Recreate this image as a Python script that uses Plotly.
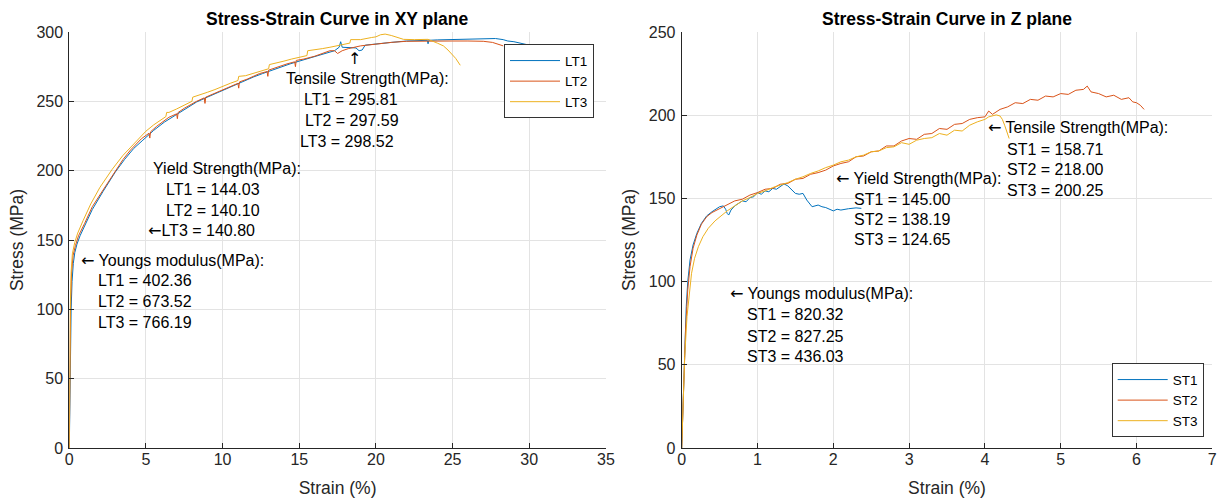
import plotly.graph_objects as go

# ---------------- data: XY plane (left) ----------------
lt1_strain = [0, 0.04, 0.08, 0.12, 0.18, 0.26, 0.36, 0.5, 0.7, 1.0, 1.5, 2.2, 3.0, 3.6, 4.2, 4.8, 5.5,
              6.2, 6.9, 7.6, 8.3, 9.0, 9.6, 10.2, 10.8, 11.4, 12.0, 12.6, 13.2, 13.8, 14.4, 15.0, 15.6,
              16.2, 16.8, 17.3, 17.6, 17.7, 17.8, 18.3, 18.7, 18.9, 19.1, 19.3, 20.0, 21.0, 22.0, 23.0,
              23.35, 23.4, 23.45, 24.0, 25.0, 26.0, 27.0, 27.8, 28.3, 28.6, 29.0, 29.5, 29.8]
lt1_stress = [0, 40, 75, 100, 120, 133, 141, 147, 153, 160, 172, 185, 199, 208, 216, 222, 229,
              235, 240, 245, 249.5, 253, 256, 259, 262, 265, 267.5, 270, 272.5, 275, 277, 279, 281,
              283, 285, 286.5, 289, 293, 289, 288.5, 288.5, 286.5, 287, 290.5, 291.5, 292.5, 293.5, 294,
              294, 291.5, 294, 294.3, 294.5, 294.8, 295, 295.3, 294.5, 293.5, 293, 291.5, 291]

lt2_strain = [0, 0.03, 0.08, 0.15, 0.25, 0.4, 0.6, 1.0, 1.5, 2.2, 3.0, 3.5, 4.0, 4.7, 5.2, 5.25, 5.3,
              5.7, 6.5, 7.0, 7.05, 7.1, 7.5, 8.3, 8.8, 8.85, 8.9, 9.6, 10.5, 11.0, 11.05, 11.1, 11.6,
              12.4, 12.9, 12.95, 13.0, 13.6, 14.2, 14.7, 14.75, 14.8, 15.3, 16.0, 16.4, 17.0, 17.3,
              17.5, 17.8, 18.2, 19.0, 20.0, 21.0, 22.0, 23.0, 24.0, 25.0, 26.0, 27.0, 27.6, 28.0, 28.3]
lt2_stress = [0, 50, 100, 127, 139, 146, 153, 162, 174, 186, 200, 208, 215, 223, 227, 223.5, 228,
              232, 238.5, 241, 237.5, 242, 245, 250, 252.5, 248.5, 253, 256.5, 261, 263, 259.5, 264, 266,
              270, 271.5, 268, 272.5, 275, 277, 278.5, 275, 279.5, 280.5, 282.5, 284, 286.5, 286.5,
              284.5, 286.5, 288, 290, 291.5, 292.5, 293.3, 293.5, 293.8, 293.5, 293.5, 293.3, 292.5, 291, 290]

lt3_strain = [0, 0.02, 0.06, 0.12, 0.2, 0.35, 0.55, 0.9, 1.4, 2.0, 2.8, 3.5, 4.0, 4.5, 5.0, 5.5, 6.0,
              6.3, 6.35, 6.5, 7.0, 7.5, 8.0, 8.05, 8.5, 9.0, 9.5, 10.0, 10.5, 11.0, 11.05, 11.5, 12.0,
              12.5, 13.0, 13.05, 13.5, 14.0, 14.5, 15.0, 15.5, 15.55, 16.0, 16.5, 17.0, 17.5, 18.0,
              18.3, 18.35, 19.0, 19.7, 20.0, 20.3, 20.6, 21.0, 21.5, 21.8, 22.5, 23.0, 23.4, 24.0,
              24.4, 24.7, 25.0, 25.2, 25.5]
lt3_stress = [0, 50, 100, 127, 140, 148, 155, 164, 176, 188, 201, 211, 217, 223, 228.5, 233, 237,
              239, 242, 242, 244.5, 247.5, 250, 253, 254.5, 256.5, 258.5, 261, 263, 265, 268, 268.5, 270,
              272, 273.5, 276.5, 277.5, 279, 280.5, 282, 283, 286.5, 287, 288, 289, 290, 291.5,
              292, 294.5, 294.5, 296, 296.5, 298, 298.5, 297.5, 296, 294.7, 294.5, 294.7, 294.7, 292,
              290, 287, 283.5, 281, 276]

# ---------------- data: Z plane (right) ----------------
st1_strain = [0, 0.02, 0.04, 0.06, 0.08, 0.11, 0.15, 0.2, 0.26, 0.33, 0.4, 0.46, 0.5, 0.55, 0.58,
              0.6, 0.62, 0.65, 0.7, 0.75, 0.8, 0.85, 0.9, 0.95, 1.0, 1.05, 1.1, 1.15, 1.2, 1.25, 1.3,
              1.35, 1.4, 1.45, 1.5, 1.55, 1.6, 1.65, 1.72, 1.8, 1.85, 1.9, 2.0, 2.05, 2.1, 2.2, 2.3, 2.37]
st1_stress = [0, 30, 60, 85, 100, 113, 122, 129, 135, 139.5, 142, 144, 145, 145.5, 143.5,
              141, 140, 143, 145.5, 147, 148.5, 148, 150.5, 151, 153.5, 152.5, 154.5, 154, 156, 155.5, 157,
              158.7, 157.5, 155.5, 153, 152.5, 153, 149, 145, 146, 145, 144.5, 142.5, 143.5, 143, 143.8, 144.3, 144]

st2_strain = [0, 0.02, 0.05, 0.08, 0.11, 0.15, 0.2, 0.26, 0.33, 0.4, 0.5, 0.6, 0.7, 0.8, 0.9, 1.0,
              1.1, 1.2, 1.3, 1.4, 1.5, 1.6, 1.7, 1.8, 1.9, 2.0, 2.1, 2.2, 2.3, 2.4, 2.5, 2.6, 2.7, 2.8,
              2.9, 3.0, 3.1, 3.2, 3.3, 3.4, 3.5, 3.6, 3.7, 3.8, 3.9, 4.0, 4.05, 4.1, 4.2, 4.3, 4.4, 4.5,
              4.6, 4.7, 4.8, 4.9, 5.0, 5.1, 5.2, 5.3, 5.35, 5.4, 5.5, 5.6, 5.7, 5.8, 5.9, 5.95, 6.0, 6.05, 6.1]
st2_stress = [0, 35, 70, 95, 109, 120, 128, 134.5, 139, 141.5, 144, 146, 148.5, 149.5, 152, 153.5,
              155.5, 156, 158.5, 159, 161.5, 162, 164.5, 165.5, 167, 169.5, 171, 172, 175, 175.5, 178, 178.5, 181.5, 181.5,
              184.5, 186, 185.5, 188.5, 189, 192, 191.5, 194.5, 195, 197.5, 198.5, 199, 202.5, 200.5, 203.5, 205, 207.5, 207,
              209.5, 209, 211.5, 211, 213, 212.5, 215, 215.5, 217.5, 214, 213, 211, 212, 209.5, 210.5, 208, 207.5, 206, 203.5]

st3_strain = [0, 0.02, 0.04, 0.07, 0.1, 0.13, 0.17, 0.22, 0.28, 0.35, 0.44, 0.53, 0.6, 0.7, 0.8, 0.9,
              1.0, 1.1, 1.2, 1.3, 1.4, 1.5, 1.6, 1.7, 1.8, 1.9, 2.0, 2.1, 2.2, 2.3, 2.4, 2.5, 2.6, 2.7,
              2.8, 2.9, 3.0, 3.1, 3.2, 3.3, 3.4, 3.5, 3.6, 3.7, 3.8, 3.9, 4.0, 4.05, 4.15, 4.2, 4.23,
              4.26, 4.29, 4.32]
st3_stress = [0, 30, 55, 79, 94, 105, 114, 121, 127, 132, 136.5, 140, 142.5, 145.5, 148.5, 150.5,
              153, 154.5, 156.5, 158, 159.5, 161.5, 163, 165, 166.5, 168.5, 170, 172, 173, 175, 176, 178, 178.5, 180.5,
              181, 183.5, 182.5, 185, 186, 186.5, 189, 188, 191, 190.5, 194, 196, 197.5, 199, 200.2, 199.5, 197.5,
              194, 190, 186]

xy_names = ["LT1", "LT2", "LT3"]
z_names = ["ST1", "ST2", "ST3"]
colors = ["#0072BD", "#D95319", "#EDB120"]

LA = "<span style='font-family:DejaVu Sans'>\u2190</span>"
UA = "<span style='font-family:DejaVu Sans'>\u2191</span>"

left_notes = [
    (UA, 18.6, 281, "center"),
    ("Tensile Strength(MPa):", 14.0, 266.6, "left"),
    ("LT1 = 295.81", 15.15, 251.4, "left"),
    ("LT2 = 297.59", 15.23, 236.3, "left"),
    ("LT3 = 298.52", 14.9, 220.7, "left"),
    ("Yield Strength(MPa):", 5.33, 201.5, "left"),
    ("LT1 = 144.03", 6.19, 186.4, "left"),
    ("LT2 = 140.10", 6.19, 171.5, "left"),
    (LA + "LT3 = 140.80", 5.0, 156.6, "left"),
    (LA + " Youngs modulus(MPa):", 0.66, 135.4, "left"),
    ("LT1 = 402.36", 1.77, 120.5, "left"),
    ("LT2 = 673.52", 1.77, 105.4, "left"),
    ("LT3 = 766.19", 1.77, 90.6, "left"),
]
right_notes = [
    (LA + " Tensile Strength(MPa):", 4.02, 192.4, "left"),
    ("ST1 = 158.71", 4.265, 179.5, "left"),
    ("ST2 = 218.00", 4.265, 167.1, "left"),
    ("ST3 = 200.25", 4.265, 154.9, "left"),
    (LA + " Yield Strength(MPa):", 2.01, 162.1, "left"),
    ("ST1 = 145.00", 2.25, 149.5, "left"),
    ("ST2 = 138.19", 2.25, 137.5, "left"),
    ("ST3 = 124.65", 2.25, 125.6, "left"),
    (LA + " Youngs modulus(MPa):", 0.605, 92.6, "left"),
    ("ST1 = 820.32", 0.835, 80.2, "left"),
    ("ST2 = 827.25", 0.835, 67.2, "left"),
    ("ST3 = 436.03", 0.835, 54.7, "left"),
]

FONT = "Liberation Sans, Arial, Helvetica, sans-serif"
W, H = 1217, 502
T, B = 32, 54

fig = go.Figure()
xy_data = [(lt1_strain, lt1_stress), (lt2_strain, lt2_stress), (lt3_strain, lt3_stress)]
z_data = [(st1_strain, st1_stress), (st2_strain, st2_stress), (st3_strain, st3_stress)]
for (xs, ys), name, c in zip(xy_data, xy_names, colors):
    fig.add_trace(go.Scatter(x=xs, y=ys, mode="lines", name=name, line=dict(color=c, width=1),
                             xaxis="x", yaxis="y", legend="legend"))
for (xs, ys), name, c in zip(z_data, z_names, colors):
    fig.add_trace(go.Scatter(x=xs, y=ys, mode="lines", name=name, line=dict(color=c, width=1),
                             xaxis="x2", yaxis="y2", legend="legend2"))

left_dom = [69.3 / W, 605.9 / W]
right_dom = [681.7 / W, 1212.3 / W]

axis_common = dict(showgrid=True, gridcolor="#e3e3e3", gridwidth=1, zeroline=False,
                   showline=True, linecolor="#262626", linewidth=1, mirror=False,
                   ticks="inside", ticklen=5, tickcolor="#262626",
                   tickfont=dict(family=FONT, size=16, color="#262626"),
                   automargin=False, fixedrange=True)
xfont = dict(family=FONT, size=17.5, color="#262626")

annotations = []
for text, x, y, anc in left_notes:
    annotations.append(dict(text=text, x=x, y=y, xref="x", yref="y", xanchor=anc, yanchor="middle",
                            showarrow=False, font=dict(family=FONT, size=16, color="#000000")))
for text, x, y, anc in right_notes:
    annotations.append(dict(text=text, x=x, y=y, xref="x2", yref="y2", xanchor=anc, yanchor="middle",
                            showarrow=False, font=dict(family=FONT, size=16, color="#000000")))
for dom, title in [(left_dom, "Stress-Strain Curve in XY plane"), (right_dom, "Stress-Strain Curve in Z plane")]:
    annotations.append(dict(text="<b>" + title + "</b>", x=(dom[0] + dom[1]) / 2, y=1, xref="paper", yref="paper",
                            xanchor="center", yanchor="middle", yshift=13, showarrow=False,
                            font=dict(family=FONT, size=17.5, color="#000000")))

fig.update_layout(
    width=W, height=H,
    margin=dict(l=0, r=0, t=T, b=B, pad=0),
    paper_bgcolor="white", plot_bgcolor="white",
    font=dict(family=FONT, color="#262626"),
    showlegend=True,
    xaxis=dict(domain=left_dom, range=[0, 35], dtick=5, tick0=0, anchor="y", ticklabelstandoff=-3,
               title=dict(text="Strain (%)", font=xfont, standoff=14), **axis_common),
    yaxis=dict(domain=[0, 1], range=[0, 300], dtick=50, tick0=0, anchor="x", ticklabelstandoff=2,
               title=dict(text="Stress (MPa)", font=xfont, standoff=8), **axis_common),
    xaxis2=dict(domain=right_dom, range=[0, 7], dtick=1, tick0=0, anchor="y2", ticklabelstandoff=-3,
                title=dict(text="Strain (%)", font=xfont, standoff=14), **axis_common),
    yaxis2=dict(domain=[0, 1], range=[0, 250], dtick=50, tick0=0, anchor="x2", ticklabelstandoff=2,
                title=dict(text="Stress (MPa)", font=xfont, standoff=8), **axis_common),
    legend=dict(x=504 / W, y=(448 - 44.3) / 416, xanchor="left", yanchor="top",
                bgcolor="white", bordercolor="#333333", borderwidth=1,
                font=dict(family=FONT, size=13.5, color="#000000"), tracegroupgap=0, itemwidth=50),
    legend2=dict(x=1111.7 / W, y=(448 - 363.3) / 416, xanchor="left", yanchor="top",
                 bgcolor="white", bordercolor="#333333", borderwidth=1,
                 font=dict(family=FONT, size=13.5, color="#000000"), tracegroupgap=0, itemwidth=50),
    annotations=annotations,
)

fig.write_html("out.html", config={"displayModeBar": False},
               post_script="document.body.style.margin='0px';document.body.style.overflow='hidden';")
